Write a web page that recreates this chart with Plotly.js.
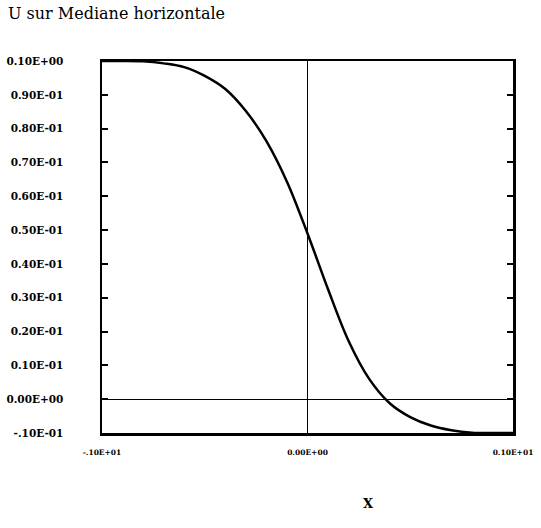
<!DOCTYPE html>
<html>
<head>
<meta charset="utf-8">
<script src="https://cdn.plot.ly/plotly-3.0.1.min.js"></script>
<style>html,body{margin:0;padding:0;background:#fff;}#chart{width:541px;height:528px;}</style>
</head>
<body>
<div id="chart"></div>
<script>
// Data
const xValues = [-1.0, -0.9, -0.8, -0.7, -0.6, -0.5, -0.4, -0.3, -0.2, -0.1, 0.0, 0.1, 0.2, 0.3, 0.4, 0.5, 0.6, 0.7, 0.8, 0.9, 1.0];
const uValues = [0.1000, 0.1000, 0.0999, 0.0993, 0.0982, 0.0956, 0.0917, 0.0852, 0.0763, 0.0643, 0.0490, 0.0325, 0.0172, 0.0060, -0.0012, -0.0053, -0.0078, -0.0092, -0.0099, -0.0100, -0.0100];

const yTickVals = [0.10, 0.09, 0.08, 0.07, 0.06, 0.05, 0.04, 0.03, 0.02, 0.01, 0.00, -0.01];
const yTickText = ["0.10E+00", "0.90E-01", "0.80E-01", "0.70E-01", "0.60E-01", "0.50E-01", "0.40E-01", "0.30E-01", "0.20E-01", "0.10E-01", "0.00E+00", "-.10E-01"];
const xTickVals = [-1, 0, 1];
const xTickText = ["-.10E+01", "0.00E+00", "0.10E+01"];

const titleText = "U sur Mediane horizontale";
const xAxisTitle = "X";

const trace = {
  x: xValues,
  y: uValues,
  type: 'scatter',
  mode: 'lines',
  line: {color: '#000', width: 2.5, shape: 'spline', smoothing: 1},
  hoverinfo: 'skip',
  showlegend: false
};

const layout = {
  width: 541,
  height: 528,
  paper_bgcolor: '#fff',
  plot_bgcolor: '#fff',
  margin: {l: 102, r: 28, t: 61, b: 95},
  title: {
    text: titleText,
    font: {family: 'DejaVu Serif', size: 16, color: '#000'},
    x: 8 / 541, xanchor: 'left', xref: 'container',
    y: 1 - 8 / 528, yanchor: 'top', yref: 'container'
  },
  xaxis: {
    range: [-1, 1],
    tickvals: xTickVals,
    ticktext: xTickText,
    tickfont: {family: 'DejaVu Serif', size: 7.5, color: '#000', weight: 'bold'},
    ticks: '',
    ticklabelstandoff: 10,
    showgrid: false,
    zeroline: true,
    zerolinecolor: '#000',
    zerolinewidth: 1,
    showline: true,
    linecolor: '#000',
    linewidth: 2.5,
    mirror: true,
    fixedrange: true
  },
  yaxis: {
    range: [-0.01, 0.1],
    tickvals: yTickVals,
    ticktext: yTickText,
    tickfont: {family: 'DejaVu Serif', size: 10.5, color: '#000', weight: 'bold'},
    ticks: 'inside',
    ticklen: 6,
    tickwidth: 2,
    tickcolor: '#000',
    ticklabelstandoff: 34,
    showgrid: false,
    zeroline: true,
    zerolinecolor: '#000',
    zerolinewidth: 1,
    showline: true,
    linecolor: '#000',
    linewidth: 2.5,
    mirror: 'ticks',
    fixedrange: true
  },
  annotations: [{
    text: xAxisTitle,
    xref: 'paper', yref: 'paper',
    x: (368 - 102) / 411, y: -(503 - 433) / 372,
    xanchor: 'center', yanchor: 'middle',
    showarrow: false,
    font: {family: 'DejaVu Serif', size: 13, color: '#000', weight: 'bold'}
  }]
};

Plotly.newPlot('chart', [trace], layout, {displayModeBar: false, staticPlot: true});
</script>
</body>
</html>
